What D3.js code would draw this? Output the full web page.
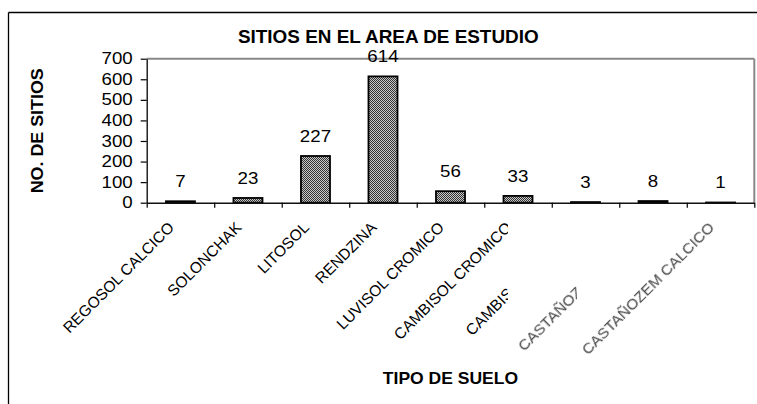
<!DOCTYPE html>
<html>
<head>
<meta charset="utf-8">
<script src="https://cdn.jsdelivr.net/npm/d3@7"></script>
<style>
  html, body { margin: 0; padding: 0; background: #fff; }
  svg { display: block; }
  text { font-family: "Liberation Sans", Arial, sans-serif; }
</style>
</head>
<body>
<svg id="chart" width="757" height="404"></svg>
<script>
// Soil types surveyed and number of sites per type
const categories = [
  "REGOSOL CALCICO", "SOLONCHAK", "LITOSOL", "RENDZINA", "LUVISOL CROMICO",
  "CAMBISOL CROMICO", "CAMBIS", "CASTAÑOZ", "CASTAÑOZEM CALCICO"
];
const sites = [7, 23, 227, 614, 56, 33, 3, 8, 1];
const yTicks = [0, 100, 200, 300, 400, 500, 600, 700];

const title = "SITIOS EN EL AREA DE ESTUDIO";
const yTitle = "NO. DE SITIOS";
const xTitle = "TIPO DE SUELO";

// Layout
const W = 757, H = 404;
const plot = { left: 146.7, right: 754.3, top: 58.7, bottom: 202.7 };
const FONT = 17;

const svg = d3.select("#chart");
const defs = svg.append("defs");

// Fine dotted fill used by the bars
const pat = defs.append("pattern")
  .attr("id", "dots").attr("patternUnits", "userSpaceOnUse")
  .attr("width", 2).attr("height", 2);
pat.append("rect").attr("width", 2).attr("height", 2).attr("fill", "#c8c8c8");
pat.append("rect").attr("x", 0).attr("y", 0).attr("width", 1).attr("height", 1).attr("fill", "#333");
pat.append("rect").attr("x", 1).attr("y", 1).attr("width", 1).attr("height", 1).attr("fill", "#333");

defs.append("filter").attr("id", "soft")
  .append("feGaussianBlur").attr("stdDeviation", 0.45);

// Clipping for the crowded category labels
defs.append("clipPath").attr("id", "clipA")
  .append("rect").attr("x", 0).attr("y", 0).attr("width", 508).attr("height", H);
defs.append("clipPath").attr("id", "clipB")
  .append("rect").attr("x", 0).attr("y", 0).attr("width", 577).attr("height", H);

// Widen text slightly along its baseline
function stretch(sel, k) {
  sel.each(function () {
    const l = this.getComputedTextLength();
    d3.select(this).attr("textLength", l * k).attr("lengthAdjust", "spacingAndGlyphs");
  });
}

// Outer frame (top and left edges)
svg.append("line").attr("x1", 8.5).attr("y1", 12.5).attr("x2", W).attr("y2", 12.5)
  .attr("stroke", "#000").attr("stroke-width", 1.3);
svg.append("line").attr("x1", 8.5).attr("y1", 12.5).attr("x2", 8.5).attr("y2", H)
  .attr("stroke", "#000").attr("stroke-width", 1.3);

// Scales
const x = d3.scaleBand().domain(categories).range([plot.left, plot.right]).padding(0);
const xEdges = d3.scaleLinear().domain([0, categories.length]).range([plot.left, plot.right]);
const y = d3.scaleLinear().domain([0, 700]).range([plot.bottom, plot.top]);

// Plot frame: top and right edges in gray
svg.append("line").attr("x1", plot.left).attr("y1", plot.top).attr("x2", plot.right).attr("y2", plot.top)
  .attr("stroke", "#888").attr("stroke-width", 2);
svg.append("line").attr("x1", plot.right).attr("y1", plot.top).attr("x2", plot.right).attr("y2", plot.bottom)
  .attr("stroke", "#888").attr("stroke-width", 2);

// Bars
const barW = x.bandwidth() * 0.43;
svg.append("g").selectAll("rect").data(sites).join("rect")
  .attr("x", (d, i) => x(categories[i]) + (x.bandwidth() - barW) / 2)
  .attr("y", d => y(d))
  .attr("width", barW)
  .attr("height", d => y(0) - y(d))
  .attr("fill", "url(#dots)")
  .attr("stroke", "#000").attr("stroke-width", 1.8);

// Y axis
const yAxis = svg.append("g").attr("transform", `translate(${plot.left},0)`)
  .call(d3.axisLeft(y).tickValues(yTicks).tickSize(6).tickSizeOuter(0).tickPadding(8));
yAxis.select(".domain").attr("stroke", "#000").attr("stroke-width", 1.3);
yAxis.selectAll(".tick line").attr("stroke", "#000").attr("stroke-width", 1.2);
yAxis.selectAll(".tick text")
  .attr("font-size", FONT).attr("fill", "#000").attr("dy", "0.3em")
  .call(stretch, 1.1);

// X axis with ticks between categories
const xAxis = svg.append("g").attr("transform", `translate(0,${plot.bottom})`)
  .call(d3.axisBottom(xEdges).tickValues(d3.range(categories.length + 1))
    .tickSize(5).tickSizeOuter(0).tickFormat(""));
xAxis.select(".domain").attr("stroke", "#111").attr("stroke-width", 1.5);
xAxis.selectAll(".tick line").attr("stroke", "#000").attr("stroke-width", 1.2);

// Value labels
svg.append("g").selectAll("text").data(sites).join("text")
  .attr("x", (d, i) => x(categories[i]) + x.bandwidth() / 2)
  .attr("y", d => y(d) - 14)
  .attr("text-anchor", "middle")
  .attr("font-size", FONT).attr("fill", "#000")
  .text(d => d)
  .call(stretch, 1.1);

// Rotated category labels
const labelFont = 15.5;
const clipFor = i => (i === 5 || i === 6) ? "url(#clipA)" : (i === 7 ? "url(#clipB)" : null);
const clipX = i => (i === 5 || i === 6) ? 508 : (i === 7 ? 577 : null);
svg.append("g").selectAll("g").data(categories).join("g")
  .attr("clip-path", (d, i) => clipFor(i))
  .each(function (d, i) {
    let px = x(d) + x.bandwidth() / 2 - 5.5;
    let py = 228.5;
    // labels that run into the next one are shortened up to the clip edge
    if (i === 6 || i === 7) {
      const shift = px - (clipX(i) + 6);
      px -= shift; py += shift;
    }
    d3.select(this).append("text")
      .attr("transform", `translate(${px},${py}) rotate(-45)`)
      .attr("text-anchor", "end")
      .attr("font-size", labelFont)
      .attr("fill", i >= 7 ? "#4a4a4a" : "#000")
      .attr("filter", i >= 7 ? "url(#soft)" : null)
      .text(d);
  });

// Titles
svg.append("text").attr("x", 388.3).attr("y", 42.7)
  .attr("text-anchor", "middle").attr("font-size", 18).attr("font-weight", "bold")
  .text(title).call(stretch, 1.05);

svg.append("text").attr("transform", "translate(43.3,130.8) rotate(-90)")
  .attr("text-anchor", "middle").attr("font-size", 17).attr("font-weight", "bold")
  .text(yTitle).call(stretch, 1.05);

svg.append("text").attr("x", 450.5).attr("y", 384)
  .attr("text-anchor", "middle").attr("font-size", 17).attr("font-weight", "bold")
  .text(xTitle).call(stretch, 1.03);
</script>
</body>
</html>
